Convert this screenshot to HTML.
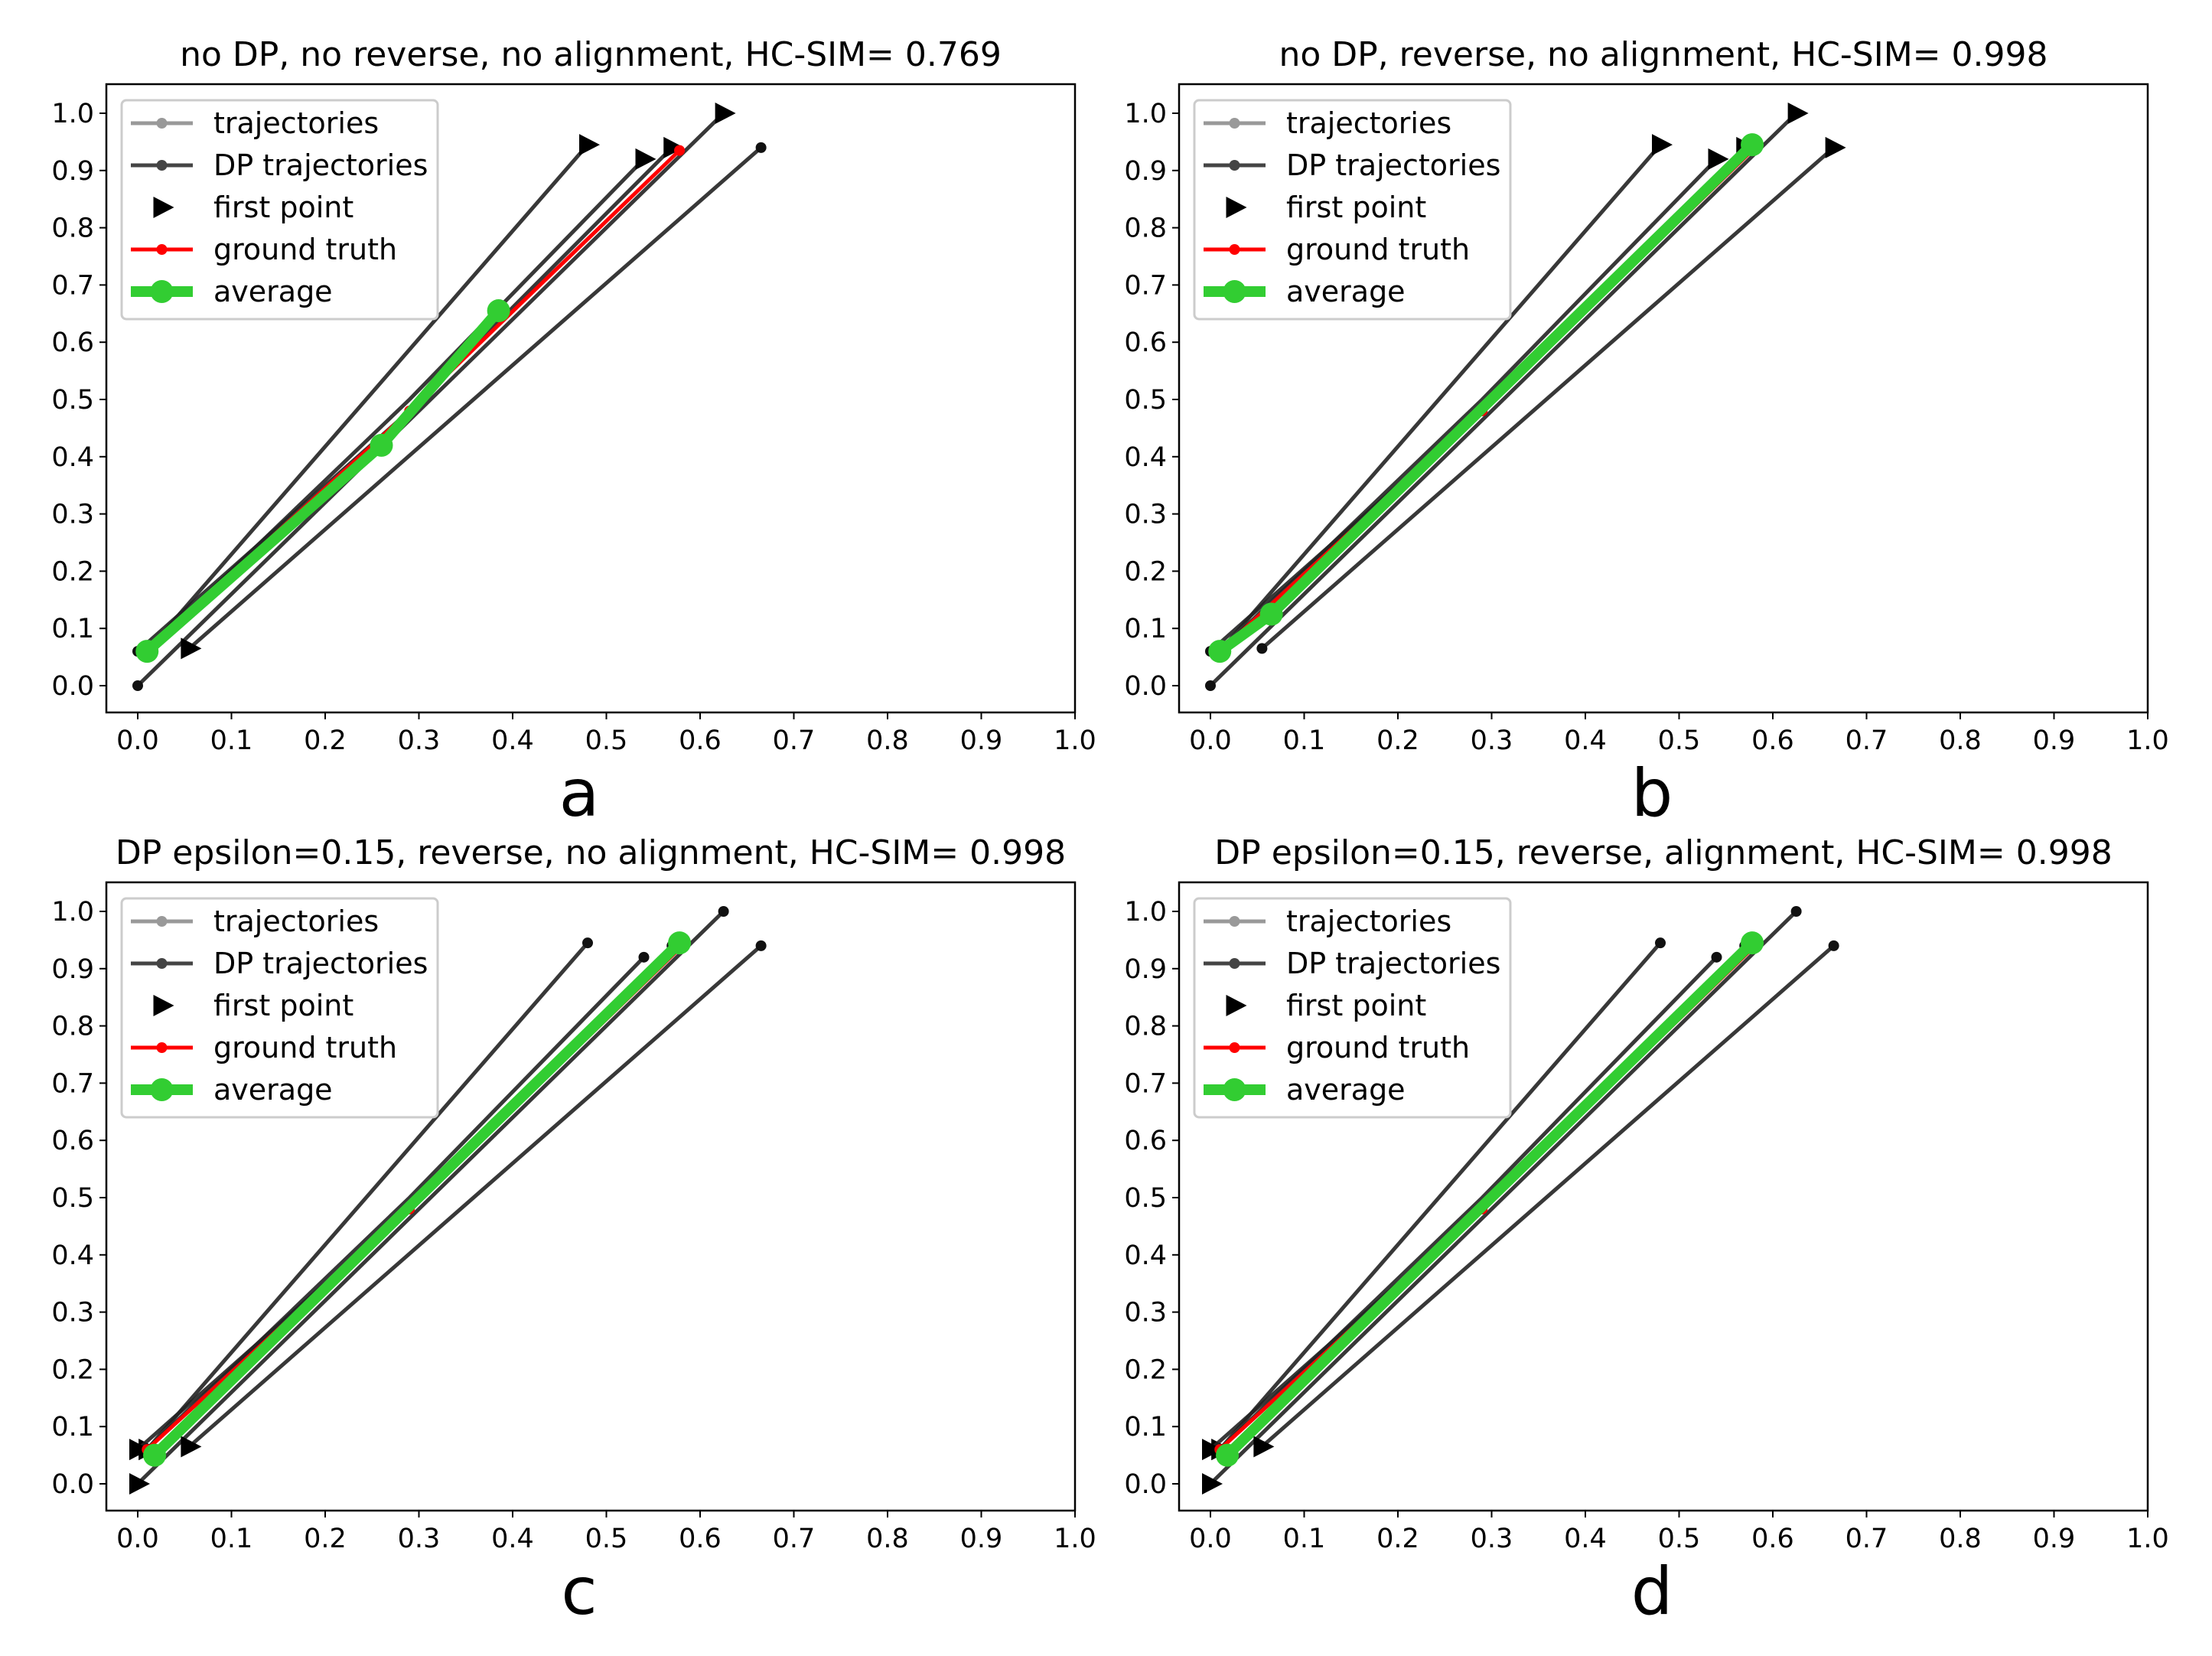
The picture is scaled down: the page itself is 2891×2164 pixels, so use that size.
<!DOCTYPE html>
<html><head><meta charset="utf-8"><style>
html,body{margin:0;padding:0;background:#fff}
svg{display:block}
text{font-family:"DejaVu Sans","Liberation Sans",sans-serif;fill:#000}
</style></head><body>
<svg id="fig" width="2891" height="2164" viewBox="0 0 2891 2164" xmlns="http://www.w3.org/2000/svg"></svg>
<script>
const titles = ["no DP, no reverse, no alignment, HC-SIM= 0.769","no DP, reverse, no alignment, HC-SIM= 0.998","DP epsilon=0.15, reverse, no alignment, HC-SIM= 0.998","DP epsilon=0.15, reverse, alignment, HC-SIM= 0.998"];
const panelLetters = ["a","b","c","d"];
const tickValues = [0,0.1,0.2,0.3,0.4,0.5,0.6,0.7,0.8,0.9,1.0];
const tickLabels = ["0.0","0.1","0.2","0.3","0.4","0.5","0.6","0.7","0.8","0.9","1.0"];
// DP trajectories (same in every panel)
const trajX = [[0.48,0.01],[0.54,0.29,0.01],[0.57,0.29,0.0],[0.625,0.0],[0.665,0.055]];
const trajY = [[0.945,0.06],[0.92,0.5,0.06],[0.94,0.48,0.06],[1.0,0.0],[0.94,0.065]];
const truthX = [0.01,0.29,0.578];
const truthY = [0.06,0.48,0.935];
const avgX = [[0.01,0.26,0.385],[0.01,0.065,0.578],[0.018,0.578],[0.018,0.578]];
const avgY = [[0.06,0.42,0.655],[0.06,0.125,0.945],[0.05,0.945],[0.05,0.945]];
// which end of trajectory is the first point (1 = top end, 0 = bottom end)
const firstIsTop = [[1,1,1,1,0],[1,1,1,1,1],[0,0,0,0,0],[0,0,0,0,0]];

const svg = document.getElementById('fig');
const NS = 'http://www.w3.org/2000/svg';
function mk(tag, attrs, parent){const e=document.createElementNS(NS,tag);for(const k in attrs)e.setAttribute(k,attrs[k]);(parent||svg).appendChild(e);return e;}

const offs = [[0,0],[1402,0],[0,1043],[1402,1043]];
for(let p=0;p<4;p++){
  const ox=offs[p][0], oy=offs[p][1];
  const g = mk('g',{});
  
  
  const L=139+ox, R=1405+ox, T=110+oy, B=931+oy;
  const sx = v => 180+ox + v*1225;
  const sy = v => 896+oy - v*748;
  const t = mk('text',{x:(L+R)/2,y:86+oy,'text-anchor':'middle','font-size':44},g);
  t.textContent = titles[p];
  
  
  const cl = 'clip'+p;
  const cp = mk('clipPath',{id:cl},g); mk('rect',{x:L,y:T,width:R-L,height:B-T},cp);
  tickValues.forEach((v,i)=>{
    mk('line',{x1:sx(v),x2:sx(v),y1:B,y2:B+9,stroke:'#000','stroke-width':2},g);
    const tx=mk('text',{x:sx(v),y:B+48,'text-anchor':'middle','font-size':35},g);
    tx.textContent=tickLabels[i];
    
    
    mk('line',{x1:L-9,x2:L,y1:sy(v),y2:sy(v),stroke:'#000','stroke-width':2},g);
    const ty=mk('text',{x:L-16,y:sy(v)+12,'text-anchor':'end','font-size':35},g);
    ty.textContent=tickLabels[i];
    
    
  });
  const pg = mk('g',{'clip-path':'url(#'+cl+')'},g);
  trajX.forEach((xs,i)=>{
    const ys=trajY[i];
    const pl=mk('polyline',{points:xs.map((x,j)=>sx(x)+','+sy(ys[j])).join(' '),fill:'none',stroke:'#222','stroke-opacity':0.9,'stroke-width':5},pg);
    
    
    const top = firstIsTop[p][i];
    const fx = top? xs[0]: xs[xs.length-1], fy = top? ys[0]: ys[ys.length-1];
    const ex = top? xs[xs.length-1]: xs[0], ey = top? ys[ys.length-1]: ys[0];
    mk('circle',{cx:sx(ex),cy:sy(ey),r:7,fill:'#111'},pg);
    const tri=mk('polygon',{points:`${sx(fx)-11},${sy(fy)-14} ${sx(fx)+16},${sy(fy)} ${sx(fx)-11},${sy(fy)+14}`,fill:'#000'},pg);
    
    
  });
  const gt=mk('polyline',{points:truthX.map((x,j)=>sx(x)+','+sy(truthY[j])).join(' '),fill:'none',stroke:'#ff0000','stroke-width':5},pg);
  
  
  truthX.forEach((x,j)=>mk('circle',{cx:sx(x),cy:sy(truthY[j]),r:7,fill:'#f00'},pg));
  const av=mk('polyline',{points:avgX[p].map((x,j)=>sx(x)+','+sy(avgY[p][j])).join(' '),fill:'none',stroke:'#32cd32','stroke-width':14,'stroke-linejoin':'round'},pg);
  
  
  avgX[p].forEach((x,j)=>mk('circle',{cx:sx(x),cy:sy(avgY[p][j]),r:15,fill:'#32cd32'},pg));
  mk('rect',{x:L,y:T,width:R-L,height:B-T,fill:'none',stroke:'#000','stroke-width':2.5},g);
  const lg = mk('g',{},g);
  
  
  mk('rect',{x:L+20,y:T+21,width:413,height:286,rx:6,fill:'#fff','fill-opacity':0.8,stroke:'#ccc','stroke-width':3},lg);
  const items=[["trajectories","#999",5,7,'c'],["DP trajectories","#444",5,7,'c'],["first point","#000",0,0,'t'],["ground truth","#f00",5,7,'c'],["average","#32cd32",14,15,'c']];
  items.forEach((it,i)=>{
    const y=T+51+i*55, x1=L+32, x2=L+113, xm=(x1+x2)/2;
    if(it[4]==='c'){mk('line',{x1:x1,x2:x2,y1:y,y2:y,stroke:it[1],'stroke-width':it[2]},lg);mk('circle',{cx:xm,cy:y,r:it[3],fill:it[1]},lg);}
    else mk('polygon',{points:`${xm-11},${y-14} ${xm+16},${y} ${xm-11},${y+14}`,fill:'#000'},lg);
    const tt=mk('text',{x:L+140,y:y+13,'font-size':38},lg);
    tt.textContent=it[0];
    
    
  });
  const lt=mk('text',{x:757+ox,y:1066+oy,'text-anchor':'middle','font-size':86},g);
  lt.textContent=panelLetters[p];
  
  
}
</script>
</body></html>
